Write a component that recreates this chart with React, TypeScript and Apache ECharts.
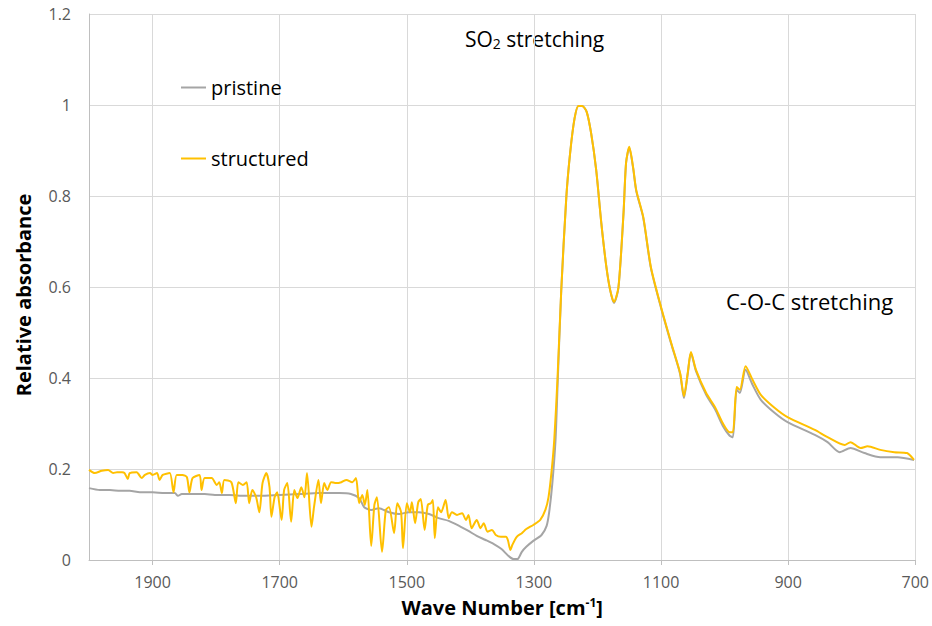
import React, { useEffect, useRef } from "react";
import * as echarts from "echarts";

// [wave number (cm^-1), relative absorbance]
const pristine: [number, number][] = [
  [2000, 0.158], [1983, 0.154], [1967, 0.154], [1951, 0.152], [1936, 0.152], [1920, 0.149],
  [1900, 0.149], [1881, 0.147], [1865, 0.147], [1860, 0.141], [1854, 0.145], [1834, 0.145],
  [1818, 0.145], [1802, 0.143], [1779, 0.143], [1755, 0.141], [1732, 0.141], [1700, 0.143],
  [1669, 0.145], [1638, 0.147], [1606, 0.147], [1588, 0.145], [1575, 0.136], [1567, 0.116],
  [1556, 0.11], [1544, 0.114], [1528, 0.105], [1512, 0.101], [1497, 0.105], [1481, 0.105],
  [1465, 0.101], [1450, 0.092], [1434, 0.086], [1415, 0.073], [1403, 0.064], [1390, 0.053],
  [1376, 0.044], [1363, 0.035], [1351, 0.024], [1340, 0.009], [1332, 0.002], [1326, 0.002],
  [1319, 0.018], [1312, 0.029], [1301, 0.042], [1288, 0.055], [1280, 0.075], [1276, 0.105],
  [1271, 0.169], [1266, 0.264], [1263, 0.374], [1257, 0.593], [1249, 0.798], [1243, 0.895],
  [1236, 0.971], [1230, 0.998], [1224, 0.998], [1217, 0.985], [1210, 0.938], [1202, 0.857],
  [1194, 0.741], [1186, 0.644], [1180, 0.593], [1174, 0.565], [1167, 0.598], [1159, 0.763],
  [1155, 0.873], [1150, 0.906], [1144, 0.862], [1139, 0.811], [1128, 0.752], [1116, 0.642],
  [1100, 0.554], [1084, 0.475], [1070, 0.409], [1064, 0.356], [1058, 0.409], [1053, 0.455],
  [1045, 0.415], [1029, 0.363], [1015, 0.331], [1003, 0.295], [992, 0.273], [987, 0.27],
  [981, 0.374], [976, 0.367], [967, 0.418], [956, 0.385], [943, 0.352], [921, 0.323],
  [901, 0.303], [858, 0.275], [838, 0.259], [819, 0.237], [802, 0.246], [780, 0.235],
  [755, 0.226], [728, 0.226], [702, 0.22],
];

const structured: [number, number][] = [
  [2000, 0.198], [1991, 0.191], [1980, 0.196], [1970, 0.198], [1962, 0.191], [1956, 0.193],
  [1948, 0.193], [1944, 0.191], [1939, 0.178], [1936, 0.191], [1925, 0.193], [1917, 0.18],
  [1912, 0.187], [1904, 0.191], [1900, 0.187], [1893, 0.191], [1889, 0.176], [1884, 0.187],
  [1873, 0.191], [1867, 0.149], [1862, 0.187], [1853, 0.187], [1846, 0.182], [1842, 0.149],
  [1837, 0.18], [1826, 0.187], [1823, 0.154], [1818, 0.18], [1807, 0.18], [1799, 0.165],
  [1795, 0.171], [1791, 0.147], [1787, 0.176], [1776, 0.171], [1769, 0.125], [1765, 0.171],
  [1758, 0.165], [1752, 0.171], [1748, 0.125], [1743, 0.154], [1737, 0.138], [1732, 0.105],
  [1727, 0.169], [1721, 0.191], [1716, 0.16], [1713, 0.095], [1708, 0.138], [1704, 0.149],
  [1697, 0.088], [1693, 0.154], [1688, 0.169], [1682, 0.084], [1677, 0.154], [1672, 0.136],
  [1666, 0.16], [1661, 0.138], [1657, 0.191], [1650, 0.073], [1646, 0.116], [1639, 0.176],
  [1635, 0.125], [1630, 0.169], [1625, 0.154], [1619, 0.171], [1611, 0.169], [1603, 0.171],
  [1595, 0.176], [1586, 0.171], [1580, 0.18], [1575, 0.125], [1570, 0.143], [1566, 0.121],
  [1562, 0.154], [1556, 0.031], [1551, 0.121], [1547, 0.138], [1539, 0.018], [1533, 0.11],
  [1528, 0.116], [1520, 0.059], [1515, 0.125], [1509, 0.105], [1506, 0.026], [1500, 0.125],
  [1495, 0.105], [1492, 0.127], [1487, 0.081], [1482, 0.127], [1478, 0.134], [1472, 0.066],
  [1467, 0.121], [1462, 0.125], [1459, 0.132], [1456, 0.048], [1451, 0.116], [1446, 0.105],
  [1439, 0.132], [1434, 0.092], [1429, 0.105], [1421, 0.099], [1413, 0.103], [1407, 0.088],
  [1403, 0.099], [1398, 0.07], [1390, 0.088], [1384, 0.07], [1379, 0.081], [1373, 0.062],
  [1366, 0.066], [1360, 0.055], [1352, 0.051], [1344, 0.051], [1341, 0.044], [1337, 0.022],
  [1334, 0.033], [1327, 0.051], [1319, 0.059], [1312, 0.068], [1301, 0.077], [1290, 0.088],
  [1282, 0.11], [1277, 0.138], [1272, 0.198], [1268, 0.264], [1263, 0.396], [1257, 0.593],
  [1249, 0.798], [1243, 0.895], [1236, 0.971], [1230, 0.998], [1224, 0.998], [1217, 0.985],
  [1210, 0.938], [1202, 0.857], [1194, 0.741], [1186, 0.644], [1180, 0.593], [1174, 0.567],
  [1167, 0.6], [1159, 0.763], [1155, 0.873], [1150, 0.908], [1144, 0.864], [1139, 0.813],
  [1128, 0.754], [1116, 0.644], [1100, 0.556], [1084, 0.477], [1070, 0.411], [1064, 0.36],
  [1058, 0.411], [1053, 0.457], [1045, 0.418], [1029, 0.367], [1015, 0.336], [1003, 0.301],
  [992, 0.281], [987, 0.281], [981, 0.38], [976, 0.374], [967, 0.426], [956, 0.396],
  [943, 0.363], [921, 0.334], [901, 0.314], [858, 0.286], [838, 0.27], [811, 0.253],
  [802, 0.259], [786, 0.246], [775, 0.25], [755, 0.242], [733, 0.237], [713, 0.235],
  [702, 0.22],
];

const seriesNames = ["pristine", "structured"];
const seriesColors = ["#A5A5A5", "#FFC000"];

const FONT = "'Open Sans', 'Noto Sans', sans-serif";

export default function App() {
  const ref = useRef<HTMLDivElement>(null);
  useEffect(() => {
    if (!ref.current) return;
    const chart = echarts.init(ref.current, undefined, { renderer: "svg" });
    chart.setOption({
      animation: false,
      backgroundColor: "#ffffff",
      textStyle: { fontFamily: FONT },
      grid: { left: 89, right: 14, top: 14, bottom: 66, containLabel: false },
      legend: {
        data: seriesNames,
        orient: "vertical",
        left: 181,
        top: 74,
        padding: 0,
        icon: "rect",
        itemWidth: 25,
        itemHeight: 2,
        itemGap: 44,
        textStyle: { fontSize: 20, color: "#000", fontFamily: FONT, lineHeight: 27 },
      },
      xAxis: {
        type: "value",
        min: 700,
        max: 2000,
        interval: 200,
        inverse: true,
        name: "Wave Number [cm{sup|-1}]",
        nameLocation: "middle",
        nameGap: 36,
        nameTextStyle: {
          fontSize: 20,
          fontWeight: "bold",
          color: "#000",
          fontFamily: FONT,
          rich: {
            sup: { fontSize: 12, fontWeight: "bold", color: "#000", padding: [0, 0, 10, 0], fontFamily: FONT },
          },
        },
        axisLine: { show: true, lineStyle: { color: "#BFBFBF", width: 1 } },
        axisTick: { show: true, length: 5, lineStyle: { color: "#BFBFBF" } },
        axisLabel: {
          fontSize: 16,
          color: "#595959",
          margin: 14,
          showMaxLabel: false,
          fontFamily: FONT,
          formatter: (v: number) => String(v),
        },
        splitLine: { show: true, lineStyle: { color: "#D9D9D9", width: 1 } },
      },
      yAxis: {
        type: "value",
        min: 0,
        max: 1.2,
        interval: 0.2,
        name: "Relative absorbance",
        nameLocation: "middle",
        nameGap: 56,
        nameTextStyle: {
          fontSize: 20,
          fontWeight: "bold",
          color: "#000",
          fontFamily: FONT,
          padding: [0, 16, 0, 0],
        },
        axisLine: { show: true, lineStyle: { color: "#BFBFBF", width: 1 } },
        axisTick: { show: false },
        axisLabel: { fontSize: 16, color: "#595959", margin: 18, fontFamily: FONT },
        splitLine: { show: true, lineStyle: { color: "#D9D9D9", width: 1 } },
      },
      series: [
        {
          name: seriesNames[0],
          type: "line",
          data: pristine,
          symbol: "none",
          smooth: 0.25,
          lineStyle: { color: seriesColors[0], width: 2 },
          itemStyle: { color: seriesColors[0] },
          z: 2,
        },
        {
          name: seriesNames[1],
          type: "line",
          data: structured,
          symbol: "none",
          smooth: 0.25,
          lineStyle: { color: seriesColors[1], width: 2 },
          itemStyle: { color: seriesColors[1] },
          z: 3,
        },
      ],
      graphic: [
        {
          type: "text",
          left: 465,
          top: 28,
          style: {
            text: "{a|SO}{b|2}{a| stretching}",
            rich: {
              a: { fontSize: 21, fill: "#000", fontFamily: FONT },
              b: { fontSize: 14, fill: "#000", padding: [10, 0, 0, 0], fontFamily: FONT },
            },
          },
        },
        {
          type: "text",
          left: 726,
          top: 290,
          style: { text: "C-O-C stretching", fontSize: 22, fill: "#000", fontFamily: FONT },
        },
      ],
    });
    return () => chart.dispose();
  }, []);
  return (
    <div
      ref={ref}
      style={{ position: "fixed", left: 0, top: 0, width: 932, height: 626 }}
    />
  );
}
